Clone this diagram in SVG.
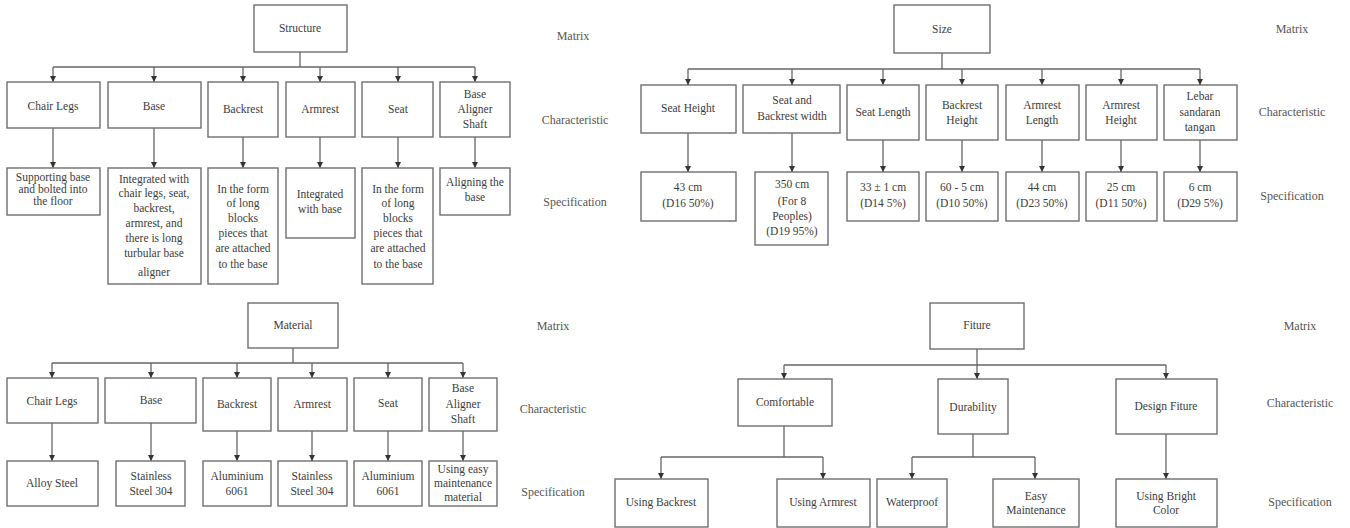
<svg xmlns="http://www.w3.org/2000/svg" width="1350" height="528" viewBox="0 0 1350 528">
<defs>
<style>
.b{fill:#fff;stroke:#6e6e6e;stroke-width:1.4}
.t{font-family:"Liberation Serif","Times New Roman","DejaVu Serif",serif;font-size:11.5px;fill:#3c3c3c;text-anchor:middle}
.l{font-family:"Liberation Serif","Times New Roman","DejaVu Serif",serif;font-size:12px;fill:#555;text-anchor:middle}
.c{fill:none;stroke:#666;stroke-width:1.3}
</style>
<marker id="ah" viewBox="0 0 8 8" refX="8" refY="4" markerWidth="6" markerHeight="6" markerUnits="userSpaceOnUse" orient="auto">
<path d="M0,0 L8,4 L0,8 z" fill="#333"/>
</marker>
</defs>
<rect width="1350" height="528" fill="#fff"/>

<!-- ===== Structure ===== -->
<g id="connectors-structure">
<path class="c" d="M300,52 V67"/>
<path class="c" d="M53,67 H475"/>
<path class="c" d="M53,67 V82" marker-end="url(#ah)"/>
<path class="c" d="M154,67 V82" marker-end="url(#ah)"/>
<path class="c" d="M243,67 V82" marker-end="url(#ah)"/>
<path class="c" d="M320,67 V82" marker-end="url(#ah)"/>
<path class="c" d="M398,67 V82" marker-end="url(#ah)"/>
<path class="c" d="M475,67 V82" marker-end="url(#ah)"/>
<path class="c" d="M53,128 V168" marker-end="url(#ah)"/>
<path class="c" d="M154,128 V168" marker-end="url(#ah)"/>
<path class="c" d="M243,137 V168" marker-end="url(#ah)"/>
<path class="c" d="M320,137 V168" marker-end="url(#ah)"/>
<path class="c" d="M398,137 V168" marker-end="url(#ah)"/>
<path class="c" d="M475,137 V168" marker-end="url(#ah)"/>
</g>
<g id="s-root"><rect class="b" x="254" y="5" width="93" height="47"/><text class="t" x="300" y="32">Structure</text></g>
<g id="s-c1"><rect class="b" x="7" y="82" width="93" height="46"/><text class="t" x="53" y="110">Chair Legs</text></g>
<g id="s-c2"><rect class="b" x="108" y="82" width="93" height="46"/><text class="t" x="154" y="110">Base</text></g>
<g id="s-c3"><rect class="b" x="208" y="82" width="70" height="55"/><text class="t" x="243" y="113">Backrest</text></g>
<g id="s-c4"><rect class="b" x="286" y="82" width="69" height="55"/><text class="t" x="320" y="113">Armrest</text></g>
<g id="s-c5"><rect class="b" x="362" y="82" width="71" height="55"/><text class="t" x="398" y="113">Seat</text></g>
<g id="s-c6"><rect class="b" x="440" y="82" width="70" height="55"/><text class="t" x="475" y="98">Base</text><text class="t" x="475" y="113">Aligner</text><text class="t" x="475" y="128">Shaft</text></g>
<g id="s-s1"><rect class="b" x="7" y="168" width="93" height="47"/><text class="t" x="53" y="181">Supporting base</text><text class="t" x="53" y="193">and bolted into</text><text class="t" x="53" y="205">the floor</text></g>
<g id="s-s2"><rect class="b" x="108" y="168" width="93" height="116"/><text class="t" x="154" y="183">Integrated with</text><text class="t" x="154" y="197">chair legs, seat,</text><text class="t" x="154" y="212">backrest,</text><text class="t" x="154" y="227">armrest, and</text><text class="t" x="154" y="242">there is long</text><text class="t" x="154" y="257">turbular base</text><text class="t" x="154" y="276">aligner</text></g>
<g id="s-s3"><rect class="b" x="208" y="168" width="70" height="116"/><text class="t" x="243" y="193">In the form</text><text class="t" x="243" y="207">of long</text><text class="t" x="243" y="222">blocks</text><text class="t" x="243" y="237">pieces that</text><text class="t" x="243" y="252">are attached</text><text class="t" x="243" y="268">to the base</text></g>
<g id="s-s4"><rect class="b" x="286" y="168" width="69" height="70"/><text class="t" x="320" y="198">Integrated</text><text class="t" x="320" y="213">with base</text></g>
<g id="s-s5"><rect class="b" x="362" y="168" width="71" height="116"/><text class="t" x="398" y="193">In the form</text><text class="t" x="398" y="207">of long</text><text class="t" x="398" y="222">blocks</text><text class="t" x="398" y="237">pieces that</text><text class="t" x="398" y="252">are attached</text><text class="t" x="398" y="268">to the base</text></g>
<g id="s-s6"><rect class="b" x="440" y="168" width="70" height="47"/><text class="t" x="475" y="186">Aligning the</text><text class="t" x="475" y="201">base</text></g>
<g id="s-labels"><text class="l" x="573" y="40">Matrix</text><text class="l" x="575" y="124">Characteristic</text><text class="l" x="575" y="206">Specification</text></g>

<!-- ===== Size ===== -->
<g id="connectors-size">
<path class="c" d="M942,53 V69"/>
<path class="c" d="M688,69 H1200"/>
<path class="c" d="M688,69 V85" marker-end="url(#ah)"/>
<path class="c" d="M792,69 V85" marker-end="url(#ah)"/>
<path class="c" d="M883,69 V85" marker-end="url(#ah)"/>
<path class="c" d="M962,69 V85" marker-end="url(#ah)"/>
<path class="c" d="M1042,69 V85" marker-end="url(#ah)"/>
<path class="c" d="M1121,69 V85" marker-end="url(#ah)"/>
<path class="c" d="M1200,69 V85" marker-end="url(#ah)"/>
<path class="c" d="M688,133 V172" marker-end="url(#ah)"/>
<path class="c" d="M792,133 V172" marker-end="url(#ah)"/>
<path class="c" d="M883,140 V172" marker-end="url(#ah)"/>
<path class="c" d="M962,140 V172" marker-end="url(#ah)"/>
<path class="c" d="M1042,140 V172" marker-end="url(#ah)"/>
<path class="c" d="M1121,140 V172" marker-end="url(#ah)"/>
<path class="c" d="M1200,140 V172" marker-end="url(#ah)"/>
</g>
<g id="z-root"><rect class="b" x="894" y="5" width="96" height="48"/><text class="t" x="942" y="33">Size</text></g>
<g id="z-c1"><rect class="b" x="641" y="85" width="95" height="48"/><text class="t" x="688" y="112">Seat Height</text></g>
<g id="z-c2"><rect class="b" x="743" y="85" width="97" height="48"/><text class="t" x="792" y="104">Seat and</text><text class="t" x="792" y="120">Backrest width</text></g>
<g id="z-c3"><rect class="b" x="847" y="85" width="72" height="55"/><text class="t" x="883" y="116">Seat Length</text></g>
<g id="z-c4"><rect class="b" x="926" y="85" width="72" height="55"/><text class="t" x="962" y="109">Backrest</text><text class="t" x="962" y="124">Height</text></g>
<g id="z-c5"><rect class="b" x="1006" y="85" width="73" height="55"/><text class="t" x="1042" y="109">Armrest</text><text class="t" x="1042" y="124">Length</text></g>
<g id="z-c6"><rect class="b" x="1086" y="85" width="71" height="55"/><text class="t" x="1121" y="109">Armrest</text><text class="t" x="1121" y="124">Height</text></g>
<g id="z-c7"><rect class="b" x="1164" y="85" width="73" height="55"/><text class="t" x="1200" y="100">Lebar</text><text class="t" x="1200" y="116">sandaran</text><text class="t" x="1200" y="131">tangan</text></g>
<g id="z-s1"><rect class="b" x="641" y="172" width="95" height="49"/><text class="t" x="688" y="191">43 cm</text><text class="t" x="688" y="207">(D16 50%)</text></g>
<g id="z-s2"><rect class="b" x="755" y="172" width="73" height="73"/><text class="t" x="792" y="188">350 cm</text><text class="t" x="792" y="205">(For 8</text><text class="t" x="792" y="220">Peoples)</text><text class="t" x="792" y="235">(D19 95%)</text></g>
<g id="z-s3"><rect class="b" x="847" y="172" width="72" height="49"/><text class="t" x="883" y="191">33 ± 1 cm</text><text class="t" x="883" y="207">(D14 5%)</text></g>
<g id="z-s4"><rect class="b" x="926" y="172" width="72" height="49"/><text class="t" x="962" y="191">60 - 5 cm</text><text class="t" x="962" y="207">(D10 50%)</text></g>
<g id="z-s5"><rect class="b" x="1006" y="172" width="73" height="49"/><text class="t" x="1042" y="191">44 cm</text><text class="t" x="1042" y="207">(D23 50%)</text></g>
<g id="z-s6"><rect class="b" x="1086" y="172" width="71" height="49"/><text class="t" x="1121" y="191">25 cm</text><text class="t" x="1121" y="207">(D11 50%)</text></g>
<g id="z-s7"><rect class="b" x="1164" y="172" width="73" height="49"/><text class="t" x="1200" y="191">6 cm</text><text class="t" x="1200" y="207">(D29 5%)</text></g>
<g id="z-labels"><text class="l" x="1292" y="33">Matrix</text><text class="l" x="1292" y="116">Characteristic</text><text class="l" x="1292" y="200">Specification</text></g>

<!-- ===== Material ===== -->
<g id="connectors-material">
<path class="c" d="M293,348 V363"/>
<path class="c" d="M52,363 H463"/>
<path class="c" d="M52,363 V378" marker-end="url(#ah)"/>
<path class="c" d="M151,363 V378" marker-end="url(#ah)"/>
<path class="c" d="M237,363 V378" marker-end="url(#ah)"/>
<path class="c" d="M312,363 V378" marker-end="url(#ah)"/>
<path class="c" d="M388,363 V378" marker-end="url(#ah)"/>
<path class="c" d="M463,363 V378" marker-end="url(#ah)"/>
<path class="c" d="M52,423 V461" marker-end="url(#ah)"/>
<path class="c" d="M151,423 V461" marker-end="url(#ah)"/>
<path class="c" d="M237,431 V461" marker-end="url(#ah)"/>
<path class="c" d="M312,431 V461" marker-end="url(#ah)"/>
<path class="c" d="M388,431 V461" marker-end="url(#ah)"/>
<path class="c" d="M463,431 V461" marker-end="url(#ah)"/>
</g>
<g id="m-root"><rect class="b" x="248" y="303" width="90" height="45"/><text class="t" x="293" y="329">Material</text></g>
<g id="m-c1"><rect class="b" x="7" y="378" width="91" height="45"/><text class="t" x="52" y="405">Chair Legs</text></g>
<g id="m-c2"><rect class="b" x="105" y="378" width="91" height="45"/><text class="t" x="151" y="404">Base</text></g>
<g id="m-c3"><rect class="b" x="203" y="378" width="68" height="53"/><text class="t" x="237" y="408">Backrest</text></g>
<g id="m-c4"><rect class="b" x="278" y="378" width="69" height="53"/><text class="t" x="312" y="408">Armrest</text></g>
<g id="m-c5"><rect class="b" x="354" y="378" width="68" height="53"/><text class="t" x="388" y="407">Seat</text></g>
<g id="m-c6"><rect class="b" x="429" y="378" width="68" height="53"/><text class="t" x="463" y="392">Base</text><text class="t" x="463" y="408">Aligner</text><text class="t" x="463" y="423">Shaft</text></g>
<g id="m-s1"><rect class="b" x="7" y="461" width="91" height="45"/><text class="t" x="52" y="487">Alloy Steel</text></g>
<g id="m-s2"><rect class="b" x="116" y="461" width="69" height="45"/><text class="t" x="151" y="480">Stainless</text><text class="t" x="151" y="495">Steel 304</text></g>
<g id="m-s3"><rect class="b" x="203" y="461" width="68" height="45"/><text class="t" x="237" y="480">Aluminium</text><text class="t" x="237" y="495">6061</text></g>
<g id="m-s4"><rect class="b" x="278" y="461" width="69" height="45"/><text class="t" x="312" y="480">Stainless</text><text class="t" x="312" y="495">Steel 304</text></g>
<g id="m-s5"><rect class="b" x="354" y="461" width="68" height="45"/><text class="t" x="388" y="480">Aluminium</text><text class="t" x="388" y="495">6061</text></g>
<g id="m-s6"><rect class="b" x="429" y="461" width="68" height="45"/><text class="t" x="463" y="473">Using easy</text><text class="t" x="463" y="487">maintenance</text><text class="t" x="463" y="501">material</text></g>
<g id="m-labels"><text class="l" x="553" y="330">Matrix</text><text class="l" x="553" y="413">Characteristic</text><text class="l" x="553" y="496">Specification</text></g>

<!-- ===== Fiture ===== -->
<g id="connectors-fiture">
<path class="c" d="M977,349 V365"/>
<path class="c" d="M784,365 H1166"/>
<path class="c" d="M784,365 V379" marker-end="url(#ah)"/>
<path class="c" d="M977,365 V379" marker-end="url(#ah)"/>
<path class="c" d="M1166,365 V379" marker-end="url(#ah)"/>
<path class="c" d="M784,426 V457"/>
<path class="c" d="M661,457 H823"/>
<path class="c" d="M661,457 V479" marker-end="url(#ah)"/>
<path class="c" d="M823,457 V479" marker-end="url(#ah)"/>
<path class="c" d="M973,434 V457"/>
<path class="c" d="M912,457 H1035"/>
<path class="c" d="M912,457 V479" marker-end="url(#ah)"/>
<path class="c" d="M1035,457 V479" marker-end="url(#ah)"/>
<path class="c" d="M1166,434 V479" marker-end="url(#ah)"/>
</g>
<g id="f-root"><rect class="b" x="930" y="303" width="94" height="46"/><text class="t" x="977" y="329">Fiture</text></g>
<g id="f-c1"><rect class="b" x="738" y="379" width="94" height="47"/><text class="t" x="785" y="406">Comfortable</text></g>
<g id="f-c2"><rect class="b" x="938" y="379" width="70" height="55"/><text class="t" x="973" y="411">Durability</text></g>
<g id="f-c3"><rect class="b" x="1116" y="379" width="101" height="55"/><text class="t" x="1166" y="410">Design Fiture</text></g>
<g id="f-s1"><rect class="b" x="615" y="479" width="93" height="48"/><text class="t" x="661" y="506">Using Backrest</text></g>
<g id="f-s2"><rect class="b" x="777" y="479" width="93" height="48"/><text class="t" x="823" y="506">Using Armrest</text></g>
<g id="f-s3"><rect class="b" x="877" y="479" width="70" height="48"/><text class="t" x="912" y="506">Waterproof</text></g>
<g id="f-s4"><rect class="b" x="993" y="479" width="86" height="48"/><text class="t" x="1036" y="500">Easy</text><text class="t" x="1036" y="514">Maintenance</text></g>
<g id="f-s5"><rect class="b" x="1116" y="479" width="101" height="48"/><text class="t" x="1166" y="500">Using Bright</text><text class="t" x="1166" y="514">Color</text></g>
<g id="f-labels"><text class="l" x="1300" y="330">Matrix</text><text class="l" x="1300" y="407">Characteristic</text><text class="l" x="1300" y="506">Specification</text></g>
</svg>
